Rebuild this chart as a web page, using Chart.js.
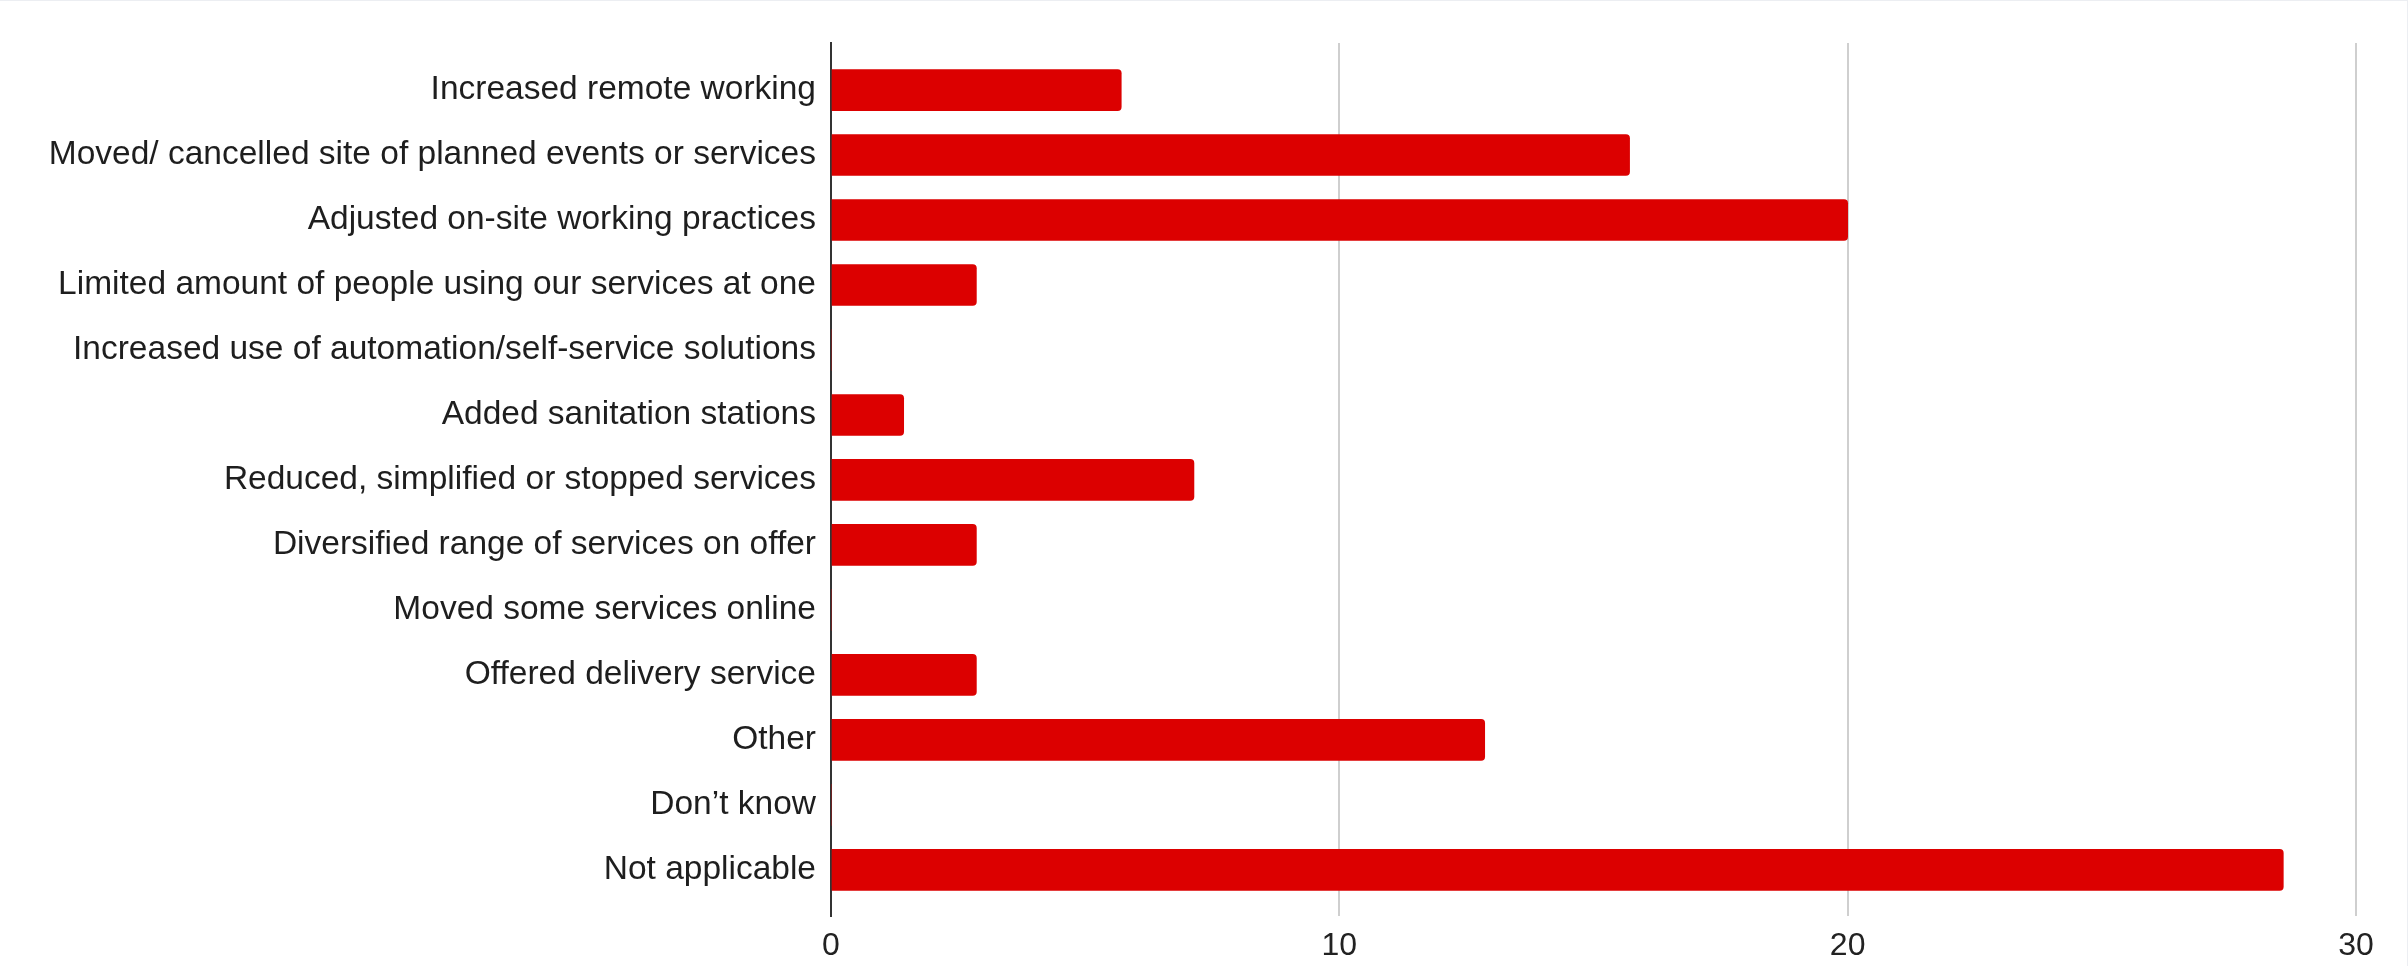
<!DOCTYPE html>
<html>
<head>
<meta charset="utf-8">
<script src="https://cdn.jsdelivr.net/npm/chart.js@4/dist/chart.umd.min.js"></script>
<style>
  html, body { margin: 0; padding: 0; background: #ffffff; }
  #wrap { width: 2408px; height: 966px; position: relative; box-sizing: border-box; border-top: 1px solid #eceef2; border-right: 1px solid #eceef2; }
  canvas { display: block; }
</style>
</head>
<body>
<div id="wrap"><canvas id="c" width="2407" height="965"></canvas></div>
<script>
// Responses (% of respondents) per measure taken
const categories = [
  "Increased remote working",
  "Moved/ cancelled site of planned events or services",
  "Adjusted on-site working practices",
  "Limited amount of people using our services at one",
  "Increased use of automation/self-service solutions",
  "Added sanitation stations",
  "Reduced, simplified or stopped services",
  "Diversified range of services on offer",
  "Moved some services online",
  "Offered delivery service",
  "Other",
  "Don\u2019t know",
  "Not applicable"
];
const shares = [5.71, 15.71, 20, 2.86, 0, 1.43, 7.14, 2.86, 0, 2.86, 12.86, 0, 28.57];
const xTicks = [0, 10, 20, 30];

const points = shares.map((v, i) => ({ x: v, y: i }));
const FONT = "'Liberation Sans', Arial, sans-serif";

new Chart(document.getElementById('c'), {
  type: 'bar',
  data: {
    datasets: [{
      data: points,
      backgroundColor: '#dc0000',
      borderWidth: 0,
      borderRadius: 4,
      borderSkipped: 'start',
      barThickness: 41
    }]
  },
  options: {
    indexAxis: 'y',
    responsive: false,
    animation: false,
    layout: { padding: { top: 42, right: 51, bottom: 0, left: 0 } },
    plugins: { legend: { display: false }, tooltip: { enabled: false } },
    scales: {
      x: {
        type: 'linear',
        min: 0,
        max: 30,
        afterBuildTicks: s => { s.ticks = xTicks.map(v => ({ value: v })); },
        afterFit: s => { s.height = 50; },
        grid: { color: '#cfcfcf', lineWidth: 2, drawTicks: false },
        border: { display: false },
        ticks: { padding: 11, color: '#222', font: { family: FONT, size: 32 } }
      },
      y: {
        type: 'linear',
        reverse: true,
        offset: false,
        min: -0.724,
        max: 12.71,
        afterBuildTicks: s => { s.ticks = categories.map((_, i) => ({ value: i })); },
        afterFit: s => { s.width = 831; },
        grid: { display: false, drawTicks: false, offset: false },
        border: { display: true, color: '#333', width: 2 },
        ticks: {
          padding: 15,
          color: '#1e1e1e',
          font: { family: FONT, size: 33.5 },
          callback: v => categories[v] ?? ''
        }
      }
    }
  }
});
</script>
</body>
</html>
